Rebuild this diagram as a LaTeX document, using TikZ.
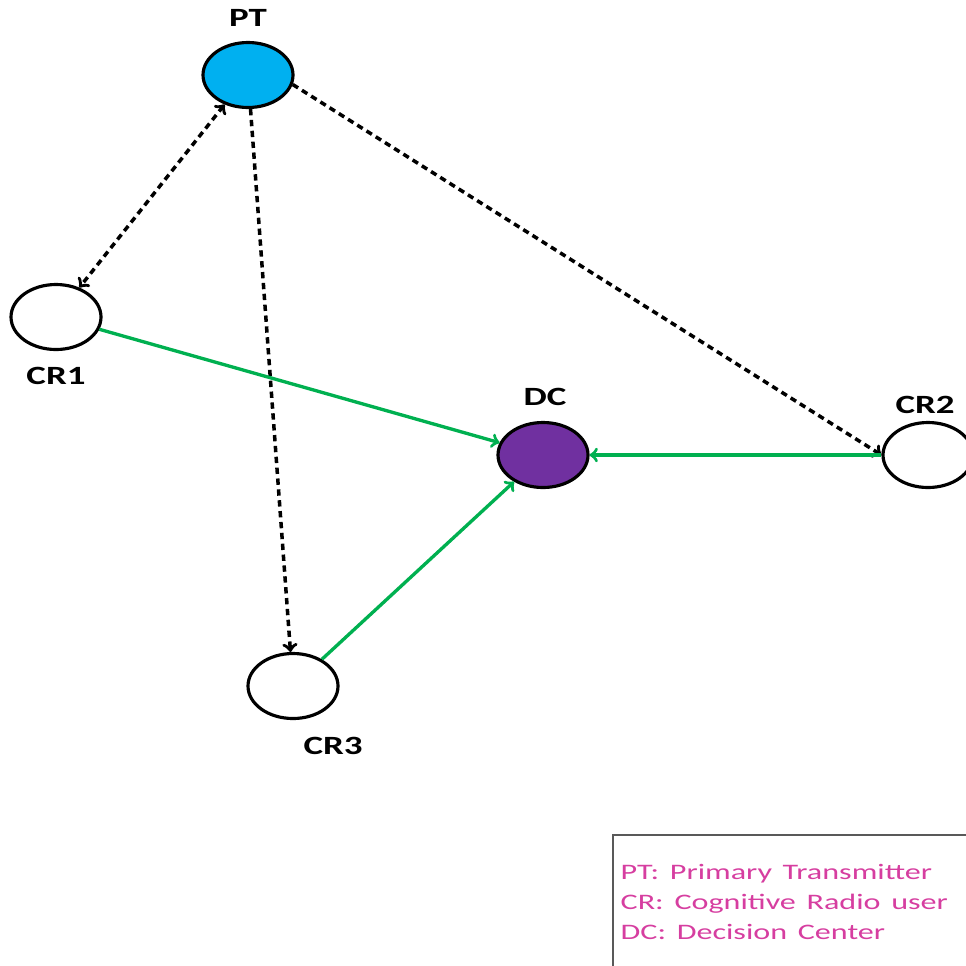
\documentclass[tikz,border=0pt]{standalone}
\usepackage{fontspec}
\setmainfont{Carlito}
\usetikzlibrary{shapes.geometric}
\definecolor{ptblue}{RGB}{0,176,240}
\definecolor{dcpurple}{RGB}{112,48,160}
\definecolor{linkgreen}{RGB}{0,176,80}
\definecolor{legendpink}{RGB}{214,62,160}
\tikzset{
  radio/.style={ellipse, draw, line width=1.8pt, minimum width=1.8cm, minimum height=1.3cm},
  tag/.style={font=\fontsize{15}{18}\selectfont\bfseries, xscale=1.4},
  sensing/.style={->, line width=2pt, dash pattern=on 3.6pt off 2.6pt},
  report/.style={->, line width=1.9pt, linkgreen},
}
\begin{document}
\begin{tikzpicture}[x=0.2mm, y=-0.2mm]
      \useasboundingbox (0,0) rectangle (966,965);
      % Noeuds
      \node[radio, fill=ptblue] (PT) at (248,75) {};
      \node[radio] (CR1) at (56,317) {};
      \node[radio, fill=dcpurple] (DC) at (543,455) {};
      \node[radio] (CR2) at (928,455) {};
      \node[radio] (CR3) at (293,686) {};
      % Etiquettes
      \node[tag] (lPT) at (248,18) {PT};
      \node[tag] (lCR1) at (56,376) {CR1};
      \node[tag] (lDC) at (545,397) {DC};
      \node[tag] (lCR2) at (925,405) {CR2};
      \node[tag] (lCR3) at (333,746) {CR3};
      % Liens PT (pointilles)
      \draw[sensing, <->] (PT) -- (CR1);
      \draw[sensing] (PT) -- (CR3);
      \draw[sensing] (PT.-12) -- (CR2.west);
      % Liens vers DC
      \draw[report] (CR1) -- (DC);
      \draw[report] (CR2) -- (DC);
      \draw[report] (CR3) -- (DC);
      % Legende
      \node[draw=black!65, line width=1.1pt, anchor=north west, xscale=1.45,
            text width=4.9cm, inner xsep=0.1cm, minimum height=2.68cm,
            align=left, text=legendpink, font=\fontsize{12.6}{16.8}\selectfont]
            (legend) at (612,834)
            {PT: Primary Transmitter\\CR: Cognitive Radio user\\DC: Decision Center};
    \end{tikzpicture}
\end{document}
